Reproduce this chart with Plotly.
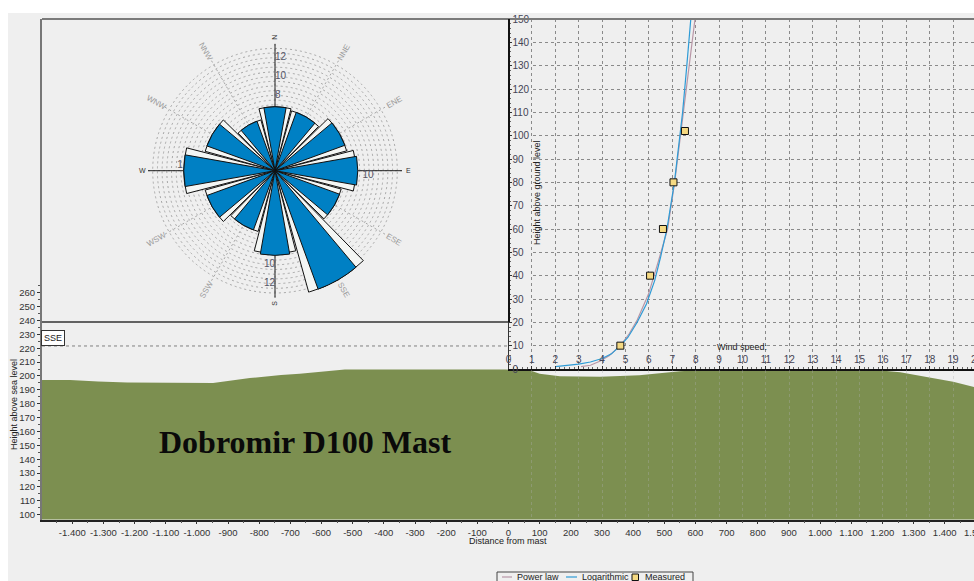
import math
import plotly.graph_objects as go

# ---------- data ----------
rose_dirs = ["N", "NNE", "ENE", "E", "ESE", "SSE", "S", "SSW", "WSW", "W", "WNW", "NNW"]
rose_theta = [0, 30, 60, 90, 120, 150, 180, 210, 240, 270, 300, 330]
rose_blue = [6.8, 6.6, 7.9, 8.8, 7.3, 13.4, 9.0, 6.7, 7.7, 9.7, 7.7, 5.6]
rose_white = [6.8, 6.6, 7.9, 8.6, 7.3, 13.4, 8.8, 6.7, 7.7, 9.7, 7.7, 5.6]
rose_rings = [0.5, 1, 1.5, 2, 2.5, 3, 3.5, 4, 4.5, 5, 5.5, 6, 6.5, 7, 7.5, 8, 8.5, 9, 9.5, 10, 10.5, 11, 11.5, 12, 12.5, 13, 13.5]

terrain_dist = [-1497, -1407, -1317, -1224, -948, -830, -730, -670, -525, -10, 70, 100, 165, 295, 420, 550, 645, 1170, 1257, 1353, 1427, 1495, 1577]
terrain_elev = [197, 197, 196, 195.3, 195, 198.5, 200.7, 201.5, 204.6, 204.6, 204, 201.5, 199.8, 199.5, 200.5, 203.3, 204.7, 204.4, 202.6, 199, 195.8, 192, 186]

log_speed = [2.0, 2.5, 3.0, 3.5, 4.0, 4.4, 4.78, 5.1, 5.5, 5.9, 6.25, 6.5, 6.77, 7.09, 7.28, 7.44, 7.62, 7.79]
log_height = [1, 1.5, 2.1, 3, 4.5, 6.5, 10, 13.5, 20, 28, 38, 48, 60, 80, 95, 110, 130, 150]
pow_speed = [3.1, 3.5, 3.9, 4.3, 4.78, 5.15, 5.5, 5.98, 6.4, 6.8, 7.1, 7.4, 7.65, 7.97]
pow_height = [1, 1.6, 3.3, 5.7, 10, 15, 21, 32, 46, 60, 80, 105, 125, 150]
meas_speed = [4.78, 6.05, 6.6, 7.05, 7.54]
meas_height = [10, 40, 60, 80, 102]

dist_ticks = [-1400, -1300, -1200, -1100, -1000, -900, -800, -700, -600, -500, -400, -300, -200, -100, 0,
              100, 200, 300, 400, 500, 600, 700, 800, 900, 1000, 1100, 1200, 1300, 1400, 1500]
dist_labels = ["-1.400", "-1.300", "-1.200", "-1.100", "-1.000", "-900", "-800", "-700", "-600", "-500", "-400", "-300", "-200", "-100", "0",
               "100", "200", "300", "400", "500", "600", "700", "800", "900", "1.000", "1.100", "1.200", "1.300", "1.400", "1.500"]
elev_ticks = [100, 110, 120, 130, 140, 150, 160, 170, 180, 190, 200, 210, 220, 230, 240, 250, 260]
wind_ticks = list(range(0, 21))
height_ticks = list(range(0, 151, 10))
mast_top = 221.6
legend_names = ["Power law", "Logarithmic", "Measured"]
POWER_C, LOG_C, MEAS_C = "#b896a6", "#2e9bd6", "#f5d982"

# ---------- page geometry ----------
W, H = 1000, 600
BG = "#efefef"
FONT = "Liberation Sans"
TXT = "#333333"
def fx(p): return p / W
def fy(p): return 1 - p / H

X0_PX, X_SCALE = 508.5, 0.3116
Y100_PX, Y_SCALE = 514.7, 1.3875
WIND_SCALE = 23.4
CX, CY, R = 275, 170.7, 127

fig = go.Figure()

# terrain
fig.add_trace(go.Scatter(x=terrain_dist, y=terrain_elev, mode="lines", fill="tozeroy",
                         fillcolor="#7c8f50", line=dict(width=0, color="#7c8f50"),
                         showlegend=False, hoverinfo="skip", xaxis="x", yaxis="y"))
fig.add_trace(go.Scatter(x=[-1497, 0], y=[mast_top, mast_top], mode="lines",
                         line=dict(color="#808080", width=1, dash="3px,3px"),
                         showlegend=False, hoverinfo="skip", xaxis="x", yaxis="y"))

# wind profile
fig.add_trace(go.Scatter(x=pow_speed, y=pow_height, mode="lines", name=legend_names[0], showlegend=False,
                         line=dict(color=POWER_C, width=1.2), xaxis="x2", yaxis="y2"))
fig.add_trace(go.Scatter(x=log_speed, y=log_height, mode="lines", name=legend_names[1], showlegend=False,
                         line=dict(color=LOG_C, width=1.2), xaxis="x2", yaxis="y2"))
fig.add_trace(go.Scatter(x=meas_speed, y=meas_height, mode="markers", name=legend_names[2], showlegend=False,
                         marker=dict(symbol="square", size=7, color=MEAS_C,
                                     line=dict(color="#111111", width=1)),
                         xaxis="x2", yaxis="y2"))
# faint grid over the ground
fig.add_trace(go.Scatter(x=[0], y=[0], mode="none", showlegend=False, hoverinfo="skip",
                         xaxis="x3", yaxis="y3"))

# wind rose
fig.add_trace(go.Barpolar(r=rose_white, theta=rose_theta, width=[29] * 12,
                          marker=dict(color="#f4f6f4", line=dict(color="#111111", width=1)),
                          showlegend=False, hoverinfo="skip", subplot="polar"))
fig.add_trace(go.Barpolar(r=rose_blue, theta=rose_theta, width=[20] * 12,
                          marker=dict(color="#0080c4", line=dict(color="#111111", width=1)),
                          showlegend=False, hoverinfo="skip", subplot="polar"))
for th, i in [(0, 0), (90, 3), (180, 6), (270, 9)]:
    fig.add_trace(go.Scatterpolar(r=[rose_blue[i], 14.15], theta=[th, th], mode="lines",
                                  line=dict(color="#222222", width=1), cliponaxis=False,
                                  showlegend=False, hoverinfo="skip", subplot="polar"))
for rr, th, txt, pos in [([8, 10, 12], 0, ["8", "10", "12"], "middle right"),
                         ([10, 12], 180, ["10", "12"], "middle left"),
                         ([9.9], 90, ["10"], "bottom center"),
                         ([10.1], 270, ["1"], "top center")]:
    fig.add_trace(go.Scatterpolar(r=rr, theta=[th] * len(rr), mode="text", text=txt, textposition=pos,
                                  textfont=dict(family=FONT, size=10, color="#555566"), cliponaxis=False,
                                  showlegend=False, hoverinfo="skip", subplot="polar"))

# ---------- rose direction labels ----------
annotations = []
rot = {"N": -90, "NNE": -60, "ENE": -30, "E": 0, "ESE": 30, "SSE": 60, "S": -90, "SSW": -60, "WSW": -30, "W": 0, "WNW": 30, "NNW": 60}
for d, t in zip(rose_dirs, rose_theta):
    lr = 133 if len(d) == 1 else 137
    a = math.radians(t)
    annotations.append(dict(x=fx(CX + lr * math.sin(a)), y=fy(CY - lr * math.cos(a)), xref="paper", yref="paper",
                            text=d, showarrow=False, textangle=rot[d], xanchor="center", yanchor="middle",
                            font=dict(family=FONT, size=7 if len(d) == 1 else 8,
                                      color="#333333" if len(d) == 1 else "#9a9a9a")))

def label(px, py, text, angle=0, size=9, anchor="center", **kw):
    annotations.append(dict(x=fx(px), y=fy(py), xref="paper", yref="paper", text=text, showarrow=False,
                            textangle=angle, xanchor=anchor, yanchor="middle",
                            font=dict(family=FONT, size=size, color=kw.pop("color", "#222222")), **kw))

label(14, 405, "Height above sea level", angle=-90)
label(537, 193, "Height above ground level", angle=-90)
label(742, 347, "Wind speed:")
label(508, 541, "Distance from mast")
label(52.5, 338, "SSE", bgcolor="#ffffff", bordercolor="#333333", borderwidth=1, borderpad=2)
annotations.append(dict(x=fx(304.5), y=fy(442), xref="paper", yref="paper", text="<b>Dobromir D100 Mast</b>",
                        showarrow=False, xanchor="center", yanchor="middle",
                        font=dict(family="Liberation Serif", size=32, color="#0a0a0a")))
for name, px in zip(legend_names, [515, 580, 643]):
    label(px, 577, name, anchor="left")

shapes = [
    dict(type="rect", xref="paper", yref="paper", x0=fx(8), x1=1, y0=fy(13), y1=0, fillcolor=BG, line_width=0, layer="below"),
    dict(type="line", xref="paper", yref="paper", x0=fx(42), x1=1, y0=fy(19), y1=fy(19), line=dict(color="#7a7a7a", width=2)),
    dict(type="line", xref="paper", yref="paper", x0=fx(42), x1=fx(509), y0=fy(322), y1=fy(322), line=dict(color="#333333", width=1.5)),
    dict(type="line", xref="paper", yref="paper", x0=fx(509), x1=fx(509), y0=fy(19), y1=fy(322), line=dict(color="#111111", width=2)),
    dict(type="rect", xref="x2", yref="y2", x0=0.05, x1=0.95, y0=0.5, y1=150, fillcolor=BG, line_width=0, layer="between"),
    # legend box and swatches
    dict(type="rect", xref="paper", yref="paper", x0=fx(497), x1=fx(693), y0=fy(572), y1=fy(595),
         fillcolor=BG, line=dict(color="#444444", width=1)),
    dict(type="line", xref="paper", yref="paper", x0=fx(502), x1=fx(512), y0=fy(577), y1=fy(577), line=dict(color=POWER_C, width=1.2)),
    dict(type="line", xref="paper", yref="paper", x0=fx(566), x1=fx(577), y0=fy(577), y1=fy(577), line=dict(color=LOG_C, width=1.2)),
    dict(type="rect", xref="paper", yref="paper", x0=fx(632), x1=fx(638.5), y0=fy(574), y1=fy(580.5), fillcolor=MEAS_C, line=dict(color="#111111", width=1)),
]

def wind_axis(**kw):
    return dict(range=[0, (W - X0_PX) / WIND_SCALE], domain=[fx(X0_PX), 1], zeroline=False, automargin=False, **kw)

fig.update_layout(
    template="none",
    width=W, height=H, margin=dict(l=0, r=0, t=0, b=0, autoexpand=False), autosize=False, showlegend=False,
    paper_bgcolor="#ffffff", plot_bgcolor="rgba(0,0,0,0)",
    font=dict(family=FONT, size=9, color=TXT),
    xaxis=dict(domain=[fx(42), 1], range=[(42 - X0_PX) / X_SCALE, (W - X0_PX) / X_SCALE], anchor="y", automargin=False,
               tickvals=dist_ticks, ticktext=dist_labels, ticks="outside", ticklen=3, tickcolor="#333333",
               minor=dict(dtick=50, ticks="outside", ticklen=2, tickcolor="#555555", showgrid=False),
               showgrid=False, zeroline=False, showline=True, linecolor="#222222", linewidth=1.5,
               tickangle=0, tickfont=dict(size=9.5, color=TXT)),
    yaxis=dict(domain=[fy(519.5), fy(19)], automargin=False,
               range=[100 + (Y100_PX - 519.5) / Y_SCALE, 100 + (Y100_PX - 19) / Y_SCALE], anchor="x",
               tickvals=elev_ticks, ticktext=[str(v) for v in elev_ticks], ticks="outside", ticklen=3, tickcolor="#333333",
               minor=dict(tickvals=list(range(105, 270, 10)), ticks="outside", ticklen=2, tickcolor="#555555", showgrid=False),
               showgrid=False, zeroline=False, showline=True, linecolor="#777777", linewidth=2,
               tickfont=dict(size=9.5, color=TXT)),
    xaxis2=wind_axis(anchor="y2", tickvals=wind_ticks, ticktext=[str(v) for v in wind_ticks], ticks="inside", ticklen=3,
                     tickcolor="#333333", ticklabelposition="inside", ticklabeloverflow="allow",
                     minor=dict(dtick=0.2, ticks="inside", ticklen=2, tickcolor="#666666", showgrid=False),
                     showgrid=True, gridcolor="#8a8a8a", griddash="3px,3px", gridwidth=1,
                     showline=True, linecolor="#111111", linewidth=1.5, tickfont=dict(size=10, color="#444455")),
    yaxis2=dict(domain=[fy(369), fy(19)], range=[0, 150], anchor="x2", zeroline=False, automargin=False,
                tickvals=height_ticks, ticktext=[str(v) for v in height_ticks], ticks="inside", ticklen=3, tickcolor="#333333",
                ticklabelposition="inside", ticklabeloverflow="allow",
                minor=dict(dtick=2, ticks="inside", ticklen=2, tickcolor="#666666", showgrid=False),
                showgrid=True, gridcolor="#8a8a8a", griddash="3px,3px", gridwidth=1,
                showline=True, linecolor="#333333", linewidth=1, tickfont=dict(size=10, color="#444455")),
    xaxis3=wind_axis(anchor="y3", tickvals=wind_ticks, showticklabels=False, ticks="", showline=False,
                     showgrid=True, gridcolor="rgba(175,175,175,0.35)", griddash="3px,3px", gridwidth=1),
    yaxis3=dict(domain=[fy(519), fy(370)], range=[0, 1], anchor="x3", visible=False, automargin=False),
    polar=dict(
        domain=dict(x=[fx(CX - R), fx(CX + R)], y=[fy(CY + R), fy(CY - R)]),
        bgcolor="rgba(0,0,0,0)", barmode="overlay",
        radialaxis=dict(range=[0, 13.5], angle=90, tickvals=rose_rings, showticklabels=False, ticks="",
                        showline=False, showgrid=True, gridcolor="#a6a6a6", griddash="2px,3px", gridwidth=1),
        angularaxis=dict(rotation=90, direction="clockwise", tickvals=rose_theta, showticklabels=False, ticks="",
                         showline=False, showgrid=True, gridcolor="#a6a6a6", griddash="2px,3px", gridwidth=1),
    ),
    annotations=annotations, shapes=shapes,
)

fig.write_html("out.html", config={"displayModeBar": False},
               post_script="document.documentElement.style.overflow='hidden';document.body.style.margin='0';document.body.style.overflow='hidden';")
